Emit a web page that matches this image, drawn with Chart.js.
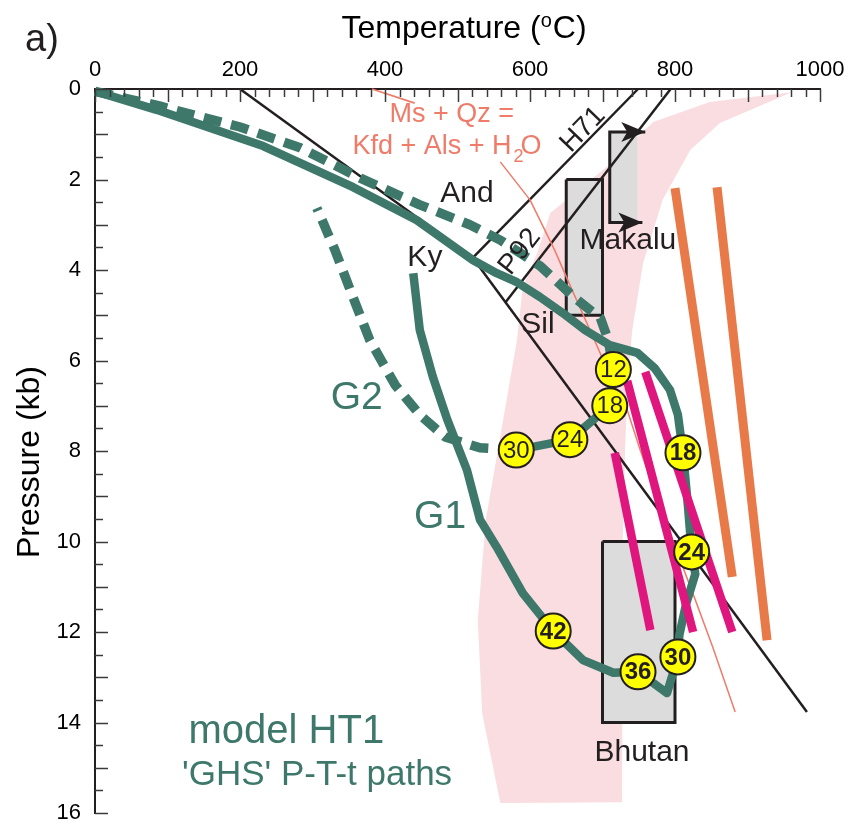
<!DOCTYPE html>
<html><head><meta charset="utf-8">
<script src="https://cdn.jsdelivr.net/npm/chart.js@4.4.1/dist/chart.umd.min.js"></script>
<style>html,body{margin:0;padding:0;background:#fff}canvas{display:block}</style>
</head><body>
<canvas id="c" width="852" height="826"></canvas>
<script>
// ---------- data (temperature °C, pressure kb) ----------
const xTickLabels = [0, 200, 400, 600, 800, 1000];
const yTickLabels = [0, 2, 4, 6, 8, 10, 12, 14, 16];

// pink field
const pinkT = [961, 862, 821, 783, 756, 741, 735, 731, 728, 727, 727, 559, 534, 528, 539, 563, 582, 590, 610, 628, 706, 770, 848, 961];
const pinkP = [0.07, 0.75, 1.35, 2.45, 3.85, 5.33, 6.43, 8.04, 9.9, 14.1, 15.76, 15.78, 13.79, 11.73, 9.52, 7.31, 5.55, 4.38, 3.62, 2.74, 1.72, 0.73, 0.29, 0.07];

// boxes
const makaluBoxT = [650, 700, 700, 650, 650];
const makaluBoxP = [2, 2, 5, 5, 2];
const makalu2BoxT = [710, 748, 748, 710, 710];
const makalu2BoxP = [0.95, 0.95, 2.95, 2.95, 0.95];
const makaluBracketT = [759, 710, 710, 755];
const makaluBracketP = [0.95, 0.95, 2.95, 2.95];
const bhutanBoxT = [700, 800, 800, 700, 700];
const bhutanBoxP = [10, 10, 14, 14, 10];

// Al2SiO5 reactions
const andKyT = [200, 521];
const andKyP = [0, 3.73];
const kySilT = [521, 982];
const kySilP = [3.73, 13.77];
const h71T = [521, 749];
const h71P = [3.73, 0];
const p92T = [566, 794];
const p92P = [4.72, 0];

// Ms + Qz = Kfd + Als + H2O
const msTopT = [382, 441];
const msTopP = [0, 0.31];
const msT = [559, 600, 634, 658, 687, 713, 734, 752, 786, 828, 852, 883];
const msP = [1.61, 2.45, 3.56, 4.44, 5.48, 6.43, 7.09, 7.98, 9.52, 11.29, 12.33, 13.77];

// orange & magenta lines
const orange1T = [800, 879];
const orange1P = [2.19, 10.78];
const orange2T = [858, 927];
const orange2P = [2.17, 12.18];
const magenta1T = [717, 766];
const magenta1P = [8.04, 11.96];
const magenta2T = [734, 825];
const magenta2P = [6.45, 12.0];
const magenta3T = [759, 879];
const magenta3P = [6.25, 12.0];

// G1 path
const g1T = [0, 85, 232, 356, 444, 521, 554, 582, 614, 645, 676, 710, 748, 772, 793, 804, 811, 818, 823, 828, 815, 806, 804, 789, 749, 715, 673, 632, 590, 554, 531, 513, 486, 466, 448, 439];
const g1P = [0.05, 0.46, 1.26, 2.17, 2.9, 3.78, 4.07, 4.27, 4.6, 4.95, 5.33, 5.66, 5.83, 6.17, 6.65, 7.2, 8.04, 9.24, 10.23, 10.72, 11.4, 12.07, 12.55, 13.35, 12.88, 12.9, 12.62, 11.98, 11.14, 10.12, 9.52, 8.42, 7.31, 6.36, 5.33, 4.07];

// G2 path
const g2BurialT = [0, 90, 200, 283, 366, 448, 517, 559, 614, 662, 697, 708, 715];
const g2BurialP = [0.05, 0.38, 0.84, 1.3, 1.97, 2.56, 3.0, 3.34, 3.91, 4.62, 5.06, 5.55, 6.2];
const g2PeakT = [715, 710, 655, 581];
const g2PeakP = [6.2, 7.0, 7.75, 7.98];
const g2ExhumT = [581, 531, 483, 448, 414, 379, 352, 331, 306];
const g2ExhumP = [7.98, 7.93, 7.69, 7.2, 6.54, 5.55, 4.44, 3.56, 2.63];

// time markers (Myr)
const g1Times = [18, 24, 30, 36, 42];
const g1TimeT = [811, 823, 804, 749, 632];
const g1TimeP = [8.04, 10.23, 12.55, 12.88, 11.98];
const g2Times = [12, 18, 24, 30];
const g2TimeT = [715, 710, 655, 581];
const g2TimeP = [6.2, 7.0, 7.75, 7.98];

// ---------- styling ----------
const FONT = '"Liberation Sans", Arial, Helvetica, sans-serif';
const GREEN = '#3d786a';
const BLACK = '#231f20';
const SALMON = '#ef7b69';
const pts = (T, P) => T.map((t, i) => ({ x: t, y: P[i] }));
function lineDS(T, P, color, width, order, extra) {
  return Object.assign({
    data: pts(T, P), showLine: true, borderColor: color, borderWidth: width,
    pointRadius: 0, pointHoverRadius: 0, fill: false, tension: 0, clip: false,
    borderJoinStyle: 'round', order: order
  }, extra || {});
}
function polyDS(T, P, fillColor, strokeColor, width, order) {
  return lineDS(T, P, strokeColor, width, order, { fill: 'shape', backgroundColor: fillColor, borderJoinStyle: 'miter' });
}

const datasets = [
  polyDS(pinkT, pinkP, '#fadde0', 'rgba(0,0,0,0)', 0, 100),
  polyDS(makalu2BoxT, makalu2BoxP, '#dcdcdc', 'rgba(0,0,0,0)', 0, 95),
  lineDS(makaluBracketT, makaluBracketP, BLACK, 3, 94, { borderJoinStyle: 'miter' }),
  polyDS(makaluBoxT, makaluBoxP, '#dcdcdc', BLACK, 3, 93),
  polyDS(bhutanBoxT, bhutanBoxP, '#dcdcdc', BLACK, 3, 92),
  lineDS(andKyT, andKyP, BLACK, 2.5, 80),
  lineDS(kySilT, kySilP, BLACK, 2.5, 80),
  lineDS(h71T, h71P, BLACK, 2.5, 80),
  lineDS(p92T, p92P, BLACK, 2.5, 80),
  lineDS(msTopT, msTopP, SALMON, 1.8, 75),
  lineDS(msT, msP, SALMON, 1.5, 75),
  lineDS(orange1T, orange1P, '#e87a49', 9, 70, { borderCapStyle: 'butt' }),
  lineDS(orange2T, orange2P, '#e87a49', 9, 70, { borderCapStyle: 'butt' }),
  lineDS(g2BurialT, g2BurialP, GREEN, 9.5, 55, { borderDash: [18, 10] }),
  lineDS(g2PeakT, g2PeakP, GREEN, 8.5, 54),
  lineDS(g2ExhumT, g2ExhumP, GREEN, 9.5, 55, { borderDash: [18, 10] }),
  lineDS(g1T, g1P, GREEN, 8.5, 50),
  lineDS(magenta1T, magenta1P, '#e0167f', 8.5, 40),
  lineDS(magenta2T, magenta2P, '#e0167f', 8.5, 40),
  lineDS(magenta3T, magenta3P, '#e0167f', 8.5, 40),
  { data: pts(g2TimeT, g2TimeP), showLine: false, pointRadius: 17.5, pointHoverRadius: 17.5, pointBackgroundColor: '#ffff00', pointBorderColor: BLACK, pointBorderWidth: 2, clip: false, order: 10, labels: g2Times, bold: false },
  { data: pts(g1TimeT, g1TimeP), showLine: false, pointRadius: 17.5, pointHoverRadius: 17.5, pointBackgroundColor: '#ffff00', pointBorderColor: BLACK, pointBorderWidth: 2, clip: false, order: 10, labels: g1Times, bold: true }
];

// annotation texts (anchored in data coordinates)
const annotations = [
  { text: 'And', t: 513, p: 2.32, size: 30, color: BLACK },
  { text: 'Ky', t: 455, p: 3.73, size: 30, color: BLACK },
  { text: 'Sil', t: 611, p: 5.22, size: 30, color: BLACK },
  { text: 'Makalu', t: 735, p: 3.36, size: 30, color: BLACK },
  { text: 'Bhutan', t: 754.5, p: 14.67, size: 30, color: BLACK },
  { text: 'H71', t: 673, p: 0.9, size: 28, color: BLACK, rot: -46 },
  { text: 'P92', t: 586, p: 3.6, size: 28, color: BLACK, rot: -52 },
  { text: 'Ms + Qz =', t: 492, p: 0.57, size: 27, color: SALMON },
  { text: 'G2', t: 361, p: 6.83, size: 39, color: GREEN },
  { text: 'G1', t: 476, p: 9.46, size: 39, color: GREEN },
  { text: 'model HT1', t: 129, p: 14.2, size: 40, color: GREEN, align: 'left' },
  { text: "'GHS' P-T-t paths", t: 120, p: 15.16, size: 35, color: GREEN, align: 'left' }
];

// ---------- plugins ----------
const inwardTicks = {
  id: 'inwardTicks',
  afterDatasetsDraw(chart) {
    const { ctx, scales: { x, y }, chartArea: a } = chart;
    ctx.save();
    ctx.strokeStyle = '#3a3a3a';
    ctx.lineWidth = 1.5;
    x.ticks.forEach(tk => {
      const px = Math.round(x.getPixelForValue(tk.value)) + 0.5;
      const L = (Math.round(tk.value) % 100 === 0) ? 13 : 8;
      ctx.beginPath(); ctx.moveTo(px, a.top); ctx.lineTo(px, a.top + L); ctx.stroke();
    });
    y.ticks.forEach(tk => {
      const py = Math.round(y.getPixelForValue(tk.value)) + 0.5;
      const L = (Math.abs(tk.value - Math.round(tk.value)) < 1e-6) ? 13 : 8;
      ctx.beginPath(); ctx.moveTo(a.left, py); ctx.lineTo(a.left + L, py); ctx.stroke();
    });
    ctx.restore();
  }
};

function txt(ctx, s, x, y, font, color, align, baseline) {
  ctx.font = font; ctx.fillStyle = color; ctx.textAlign = align || 'center'; ctx.textBaseline = baseline || 'middle';
  ctx.fillText(s, x, y);
}

const decorations = {
  id: 'decorations',
  afterDatasetsDraw(chart) {
    const { ctx, scales: { x, y } } = chart;
    ctx.save();
    // arrowheads on the Makalu bracket
    const arrows = [[makaluBracketT[1], makaluBracketP[1], makaluBracketT[0], makaluBracketP[0]],
                    [makaluBracketT[2], makaluBracketP[2], makaluBracketT[3], makaluBracketP[3]]];
    ctx.fillStyle = BLACK;
    arrows.forEach(([t0, p0, t1, p1]) => {
      const x0 = x.getPixelForValue(t0), y0 = y.getPixelForValue(p0);
      const x1 = x.getPixelForValue(t1), y1 = y.getPixelForValue(p1);
      const ang = Math.atan2(y1 - y0, x1 - x0);
      const L = 24, W = 10;
      ctx.beginPath();
      ctx.moveTo(x1, y1);
      ctx.lineTo(x1 - L * Math.cos(ang) + W * Math.sin(ang), y1 - L * Math.sin(ang) - W * Math.cos(ang));
      ctx.lineTo(x1 - L * 0.75 * Math.cos(ang), y1 - L * 0.75 * Math.sin(ang));
      ctx.lineTo(x1 - L * Math.cos(ang) - W * Math.sin(ang), y1 - L * Math.sin(ang) + W * Math.cos(ang));
      ctx.closePath(); ctx.fill();
    });
    // time labels in circles
    chart.data.datasets.forEach((ds, i) => {
      if (!ds.labels) return;
      const meta = chart.getDatasetMeta(i);
      meta.data.forEach((el, j) => {
        txt(ctx, String(ds.labels[j]), el.x, el.y + 1, (ds.bold ? 'bold ' : '') + '24px ' + FONT, BLACK);
      });
    });
    // annotations
    annotations.forEach(a => {
      const px = x.getPixelForValue(a.t), py = y.getPixelForValue(a.p);
      ctx.save();
      ctx.translate(px, py);
      if (a.rot) ctx.rotate(a.rot * Math.PI / 180);
      txt(ctx, a.text, 0, 0, a.size + 'px ' + FONT, a.color, a.align || 'center');
      ctx.restore();
    });
    // Kfd + Als + H2O with subscript
    {
      const cx = x.getPixelForValue(485.5), cy = y.getPixelForValue(1.28);
      const f = '27px ' + FONT;
      ctx.font = f;
      const w1 = ctx.measureText('Kfd + Als + H').width;
      const wO = ctx.measureText('O').width;
      const gap = 9;
      const total = w1 + gap + wO;
      const sx = cx - total / 2;
      txt(ctx, 'Kfd + Als + H', sx, cy, f, SALMON, 'left');
      txt(ctx, '2', sx + w1 + 2, cy + 10, '18px ' + FONT, SALMON, 'left');
      txt(ctx, 'O', sx + w1 + gap, cy, f, SALMON, 'left');
    }
    ctx.restore();
  }
};

const outerText = {
  id: 'outerText',
  afterDraw(chart) {
    const { ctx } = chart;
    ctx.save();
    txt(ctx, 'a)', 25, 51, '38px ' + FONT, BLACK, 'left', 'alphabetic');
    // x-axis title with superscript o
    const f = '32px ' + FONT, fs = '20px ' + FONT;
    ctx.font = f;
    const a1 = 'Temperature (', a3 = 'C)';
    const w1 = ctx.measureText(a1).width, w3 = ctx.measureText(a3).width;
    ctx.font = fs;
    const w2 = ctx.measureText('o').width;
    const total = w1 + w2 + w3 + 1;
    const sx = 464 - total / 2, base = 38;
    txt(ctx, a1, sx, base, f, '#000', 'left', 'alphabetic');
    txt(ctx, 'o', sx + w1, base - 11, fs, '#000', 'left', 'alphabetic');
    txt(ctx, a3, sx + w1 + w2 + 1, base, f, '#000', 'left', 'alphabetic');
    // y-axis title
    ctx.translate(30, 462);
    ctx.rotate(-Math.PI / 2);
    txt(ctx, 'Pressure (kb)', 0, 0, f, '#000', 'center', 'middle');
    ctx.restore();
  }
};

new Chart(document.getElementById('c'), {
  type: 'scatter',
  data: { datasets },
  options: {
    responsive: false,
    animation: false,
    devicePixelRatio: 1,
    events: [],
    layout: { autoPadding: false, padding: { left: 0, right: 32, top: 0, bottom: 13 } },
    plugins: { legend: { display: false }, tooltip: { enabled: false } },
    scales: {
      x: {
        type: 'linear', position: 'top', min: 0, max: 1000,
        grid: { display: false, drawTicks: false },
        border: { display: true, color: BLACK, width: 2 },
        ticks: {
          stepSize: 20, autoSkip: false, maxRotation: 0, padding: 6, color: '#000',
          font: { family: FONT, size: 22 },
          callback: v => xTickLabels.includes(v) ? String(v) : ''
        },
        afterFit: s => { s.height = 89; s.paddingLeft = 0; s.paddingRight = 0; }
      },
      y: {
        type: 'linear', reverse: true, min: 0, max: 16,
        grid: { display: false, drawTicks: false },
        border: { display: true, color: BLACK, width: 2 },
        ticks: {
          stepSize: 0.5, autoSkip: false, padding: 14, color: '#000',
          font: { family: FONT, size: 22 },
          callback: v => yTickLabels.includes(v) ? String(v) : ''
        },
        afterFit: s => { s.width = 95; s.paddingTop = 0; s.paddingBottom = 0; }
      }
    }
  },
  plugins: [inwardTicks, decorations, outerText]
});
</script>
</body></html>
